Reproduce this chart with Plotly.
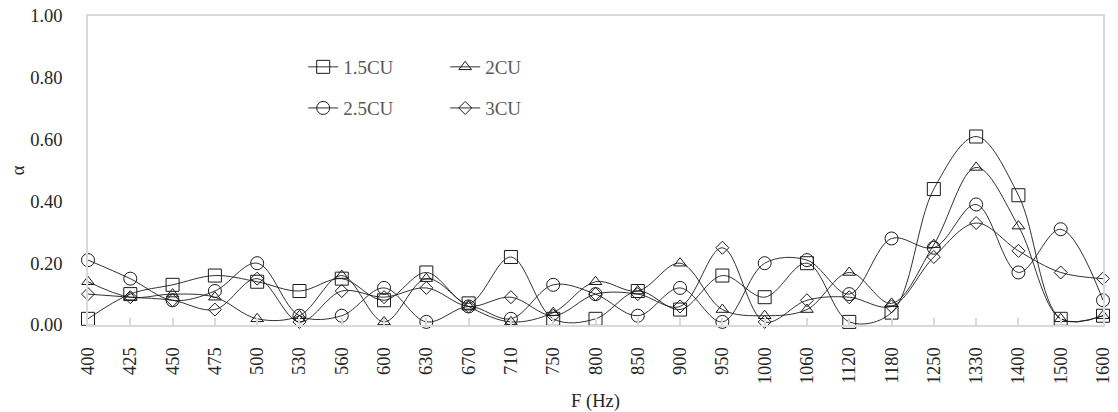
import plotly.graph_objects as go

freqs = ["400", "425", "450", "475", "500", "530", "560", "600", "630", "670",
         "710", "750", "800", "850", "900", "950", "1000", "1060", "1120", "1180",
         "1250", "1330", "1400", "1500", "1600"]

cu_15 = [0.02, 0.10, 0.13, 0.16, 0.14, 0.11, 0.15, 0.08, 0.17, 0.07,
         0.22, 0.02, 0.02, 0.11, 0.05, 0.16, 0.09, 0.20, 0.01, 0.04,
         0.44, 0.61, 0.42, 0.02, 0.03]
cu_20 = [0.14, 0.09, 0.10, 0.09, 0.02, 0.03, 0.16, 0.01, 0.15, 0.06,
         0.01, 0.04, 0.14, 0.11, 0.20, 0.05, 0.03, 0.05, 0.17, 0.07,
         0.26, 0.51, 0.32, 0.02, 0.03]
cu_25 = [0.21, 0.15, 0.08, 0.11, 0.20, 0.03, 0.03, 0.12, 0.01, 0.06,
         0.02, 0.13, 0.10, 0.03, 0.12, 0.01, 0.20, 0.21, 0.10, 0.28,
         0.25, 0.39, 0.17, 0.31, 0.08]
cu_30 = [0.10, 0.09, 0.08, 0.05, 0.15, 0.01, 0.11, 0.09, 0.12, 0.06,
         0.09, 0.03, 0.10, 0.10, 0.06, 0.25, 0.01, 0.08, 0.09, 0.06,
         0.22, 0.33, 0.24, 0.17, 0.15]

series = [
    ("1.5CU", cu_15, "square-open", 13, "legend"),
    ("2CU", cu_20, "triangle-up-open", 11, "legend"),
    ("2.5CU", cu_25, "circle-open", 13, "legend2"),
    ("3CU", cu_30, "diamond-open", 10, "legend2"),
]

FONT = "Liberation Serif"
fig = go.Figure()
for name, vals, sym, sz, leg in series:
    fig.add_trace(go.Scatter(
        x=freqs, y=vals, name=name, mode="lines+markers",
        line=dict(color="#1a1a1a", width=0.9, shape="spline", smoothing=1),
        marker=dict(symbol=sym, size=sz, color="#1a1a1a",
                    line=dict(color="#1a1a1a", width=1)),
        cliponaxis=False, legend=leg,
    ))

legend_common = dict(
    orientation="h", xanchor="left", yanchor="middle",
    font=dict(family=FONT, size=19, color="#595959"),
    bgcolor="rgba(0,0,0,0)", entrywidth=97, entrywidthmode="pixels",
    traceorder="normal",
)

# the page body adds an 8px offset, so the figure is 8px smaller
fig.update_layout(
    width=1110, height=404,
    margin=dict(l=80, r=15, t=8, b=87),
    paper_bgcolor="white", plot_bgcolor="white",
    font=dict(family=FONT, size=18, color="#262626"),
    showlegend=True,
    legend=dict(x=0.212, y=0.835, **legend_common),
    legend2=dict(x=0.212, y=0.702, **legend_common),
    xaxis=dict(
        type="category", range=[0, len(freqs) - 1], automargin=False,
        showline=True, linecolor="#d9d9d9", linewidth=1.5, mirror=True,
        ticks="inside", ticklen=7, tickwidth=1.5, tickcolor="#d9d9d9",
        tickangle=-90, showgrid=False, zeroline=False,
        tickfont=dict(family=FONT, size=18.5, color="#262626"),
        ticklabelstandoff=13, ticklabeloverflow="allow",
        title=dict(text="F (Hz)", font=dict(family=FONT, size=18.5, color="#262626"),
                   standoff=12),
    ),
    yaxis=dict(
        range=[0, 1], dtick=0.2, tickformat=".2f", automargin=False,
        showline=True, linecolor="#d9d9d9", linewidth=1.5, mirror=True,
        ticks="", showgrid=False, zeroline=False,
        tickfont=dict(family=FONT, size=18.5, color="#262626"),
        ticklabelstandoff=20, ticklabeloverflow="allow",
        title=dict(text="α", font=dict(family=FONT, size=18.5, color="#262626"),
                   standoff=10),
    ),
)

fig.write_html("out.html")
